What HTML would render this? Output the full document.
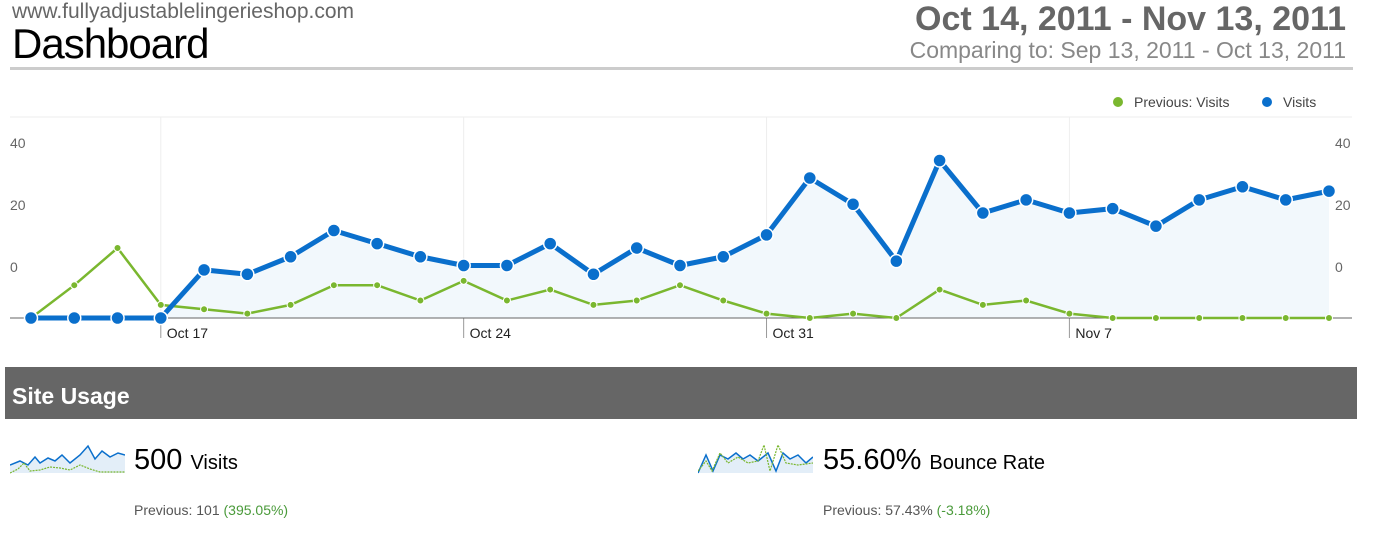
<!DOCTYPE html>
<html><head><meta charset="utf-8"><style>
body{margin:0;width:1381px;height:540px;background:#fff;font-family:"Liberation Sans",Arial,sans-serif;position:relative;overflow:hidden}
.a{position:absolute;white-space:nowrap}
</style></head><body>
<div class="a" style="left:12px;top:0px;font-size:21px;color:#666">www.fullyadjustablelingerieshop.com</div>
<div class="a" style="left:12px;top:20px;font-size:42px;color:#000;letter-spacing:-1px">Dashboard</div>
<div class="a" style="right:35px;top:0px;font-size:34px;font-weight:bold;color:#666">Oct 14, 2011 - Nov 13, 2011</div>
<div class="a" style="right:35px;top:37px;font-size:23px;color:#888">Comparing to: Sep 13, 2011 - Oct 13, 2011</div>
<div class="a" style="left:10px;top:67px;width:1343px;height:3px;background:#ccc"></div>
<svg id="chart" class="a" style="left:0;top:0" width="1381" height="360"></svg>
<div class="a" style="left:5px;top:367px;width:1352px;height:52px;background:#666;color:#fff;font-size:23px;font-weight:bold;line-height:58px;padding-left:7px;box-sizing:border-box">Site Usage</div>
<svg class="a" style="left:10px;top:443px" width="115" height="32"><polygon points="0,30 0,22 10,18 18,22 25,14 30,20 38,15 45,18 52,12 60,20 70,12 78,3 85,16 92,8 100,14 108,10 115,12 115,30" fill="#e3eef8"/><polyline points="0,22 10,18 18,22 25,14 30,20 38,15 45,18 52,12 60,20 70,12 78,3 85,16 92,8 100,14 108,10 115,12" fill="none" stroke="#0a6fcc" stroke-width="1.5"/><polyline points="0,30 8,26 14,20 20,28 30,27 40,24 50,25 60,27 70,22 80,26 90,29 100,29 115,29" fill="none" stroke="#7ab72f" stroke-width="1.2" stroke-dasharray="2,1"/></svg>
<div class="a" style="left:134px;top:444px;font-size:29px;color:#000">500 <span style="font-size:20px">Visits</span></div>
<div class="a" style="left:134px;top:502px;font-size:14px;color:#555">Previous: 101 <span style="color:#4a9a3a">(395.05%)</span></div>
<svg class="a" style="left:698px;top:443px" width="115" height="32"><polygon points="0,30 8,12 15,28 22,12 30,16 38,10 45,16 52,12 60,18 70,10 78,28 85,10 92,16 100,12 108,20 115,14 115,30" fill="#e3eef8"/><polyline points="0,30 8,12 15,28 22,12 30,16 38,10 45,16 52,12 60,18 70,10 78,28 85,10 92,16 100,12 108,20 115,14" fill="none" stroke="#0a6fcc" stroke-width="1.5"/><polyline points="0,28 8,18 14,28 22,10 30,20 40,14 50,20 60,18 66,2 72,28 80,2 88,20 100,22 115,20" fill="none" stroke="#7ab72f" stroke-width="1.2" stroke-dasharray="2,1"/></svg>
<div class="a" style="left:823px;top:444px;font-size:29px;color:#000">55.60% <span style="font-size:20px">Bounce Rate</span></div>
<div class="a" style="left:823px;top:502px;font-size:14px;color:#555">Previous: 57.43% <span style="color:#4a9a3a">(-3.18%)</span></div>
<script>
const visits=[0,0,0,0,11,10,14,20,17,14,12,12,17,10,16,12,14,19,32,26,13,36,24,27,24,25,21,27,30,27,29];
const previous=[0,7.5,16,3,2,1,3,7.5,7.5,4,8.5,4,6.5,3,4,7.5,4,1,0,1,0,6.5,3,4,1,0,0,0,0,0,0];
const xLabels=["Oct 17","Oct 24","Oct 31","Nov 7"];
const xLabelIdx=[3,10,17,24];
const yTicks=["40","20","0"];
const NS="http://www.w3.org/2000/svg",svg=document.getElementById('chart');
const x=i=>31+i*(1298/30), y=v=>318-v*4.375;
function mk(t,a){const e=document.createElementNS(NS,t);for(const k in a)e.setAttribute(k,a[k]);svg.appendChild(e);return e;}
let e=mk('line',{x1:10,x2:1352,y1:117,y2:117,stroke:'#eee'});


xLabelIdx.forEach((idx,k)=>{
 let l=mk('line',{x1:x(idx),x2:x(idx),y1:117,y2:318,stroke:'#eee'});
 
 
 let t=mk('line',{x1:x(idx),x2:x(idx),y1:318,y2:338,stroke:'#999'});
 
 
 let tx=mk('text',{x:x(idx)+6,y:338,'font-size':14,fill:'#222'});tx.textContent=xLabels[k];
 
 
});
yTicks.forEach((v,k)=>{
 const yy=148+k*62;
 let a=mk('text',{x:10,y:yy,'font-size':14,fill:'#666'});a.textContent=v;
 
 
 let b=mk('text',{x:1335,y:yy,'font-size':14,fill:'#666'});b.textContent=v;
 
 
});
const vp=visits.map((v,i)=>x(i)+','+y(v)).join(' ');
let ar=mk('polygon',{points:x(0)+',318 '+vp+' '+x(30)+',318',fill:'#f2f8fc'});


let ax=mk('line',{x1:10,x2:1352,y1:318,y2:318,stroke:'#666'});


let pl=mk('polyline',{points:previous.map((v,i)=>x(i)+','+y(v)).join(' '),fill:'none',stroke:'#7ab72f','stroke-width':2.5});


previous.forEach((v,i)=>{let c=mk('circle',{cx:x(i),cy:y(v),r:3.5,fill:'#7ab72f',stroke:'#fff','stroke-width':1});
 
 });
let vl=mk('polyline',{points:vp,fill:'none',stroke:'#0a6fcc','stroke-width':5,'stroke-linejoin':'round'});


visits.forEach((v,i)=>{let c=mk('circle',{cx:x(i),cy:y(v),r:6.5,fill:'#0a6fcc',stroke:'#fff','stroke-width':1.5});
 
 });
[[1118,'#7ab72f','Previous: Visits'],[1267,'#0a6fcc','Visits']].forEach(([lx,col,txt])=>{
 let c=mk('circle',{cx:lx,cy:102,r:5,fill:col});
 
 
 let t=mk('text',{x:lx+16,y:107,'font-size':14,fill:'#444'});t.textContent=txt;
 
 
});
</script>
</body></html>
